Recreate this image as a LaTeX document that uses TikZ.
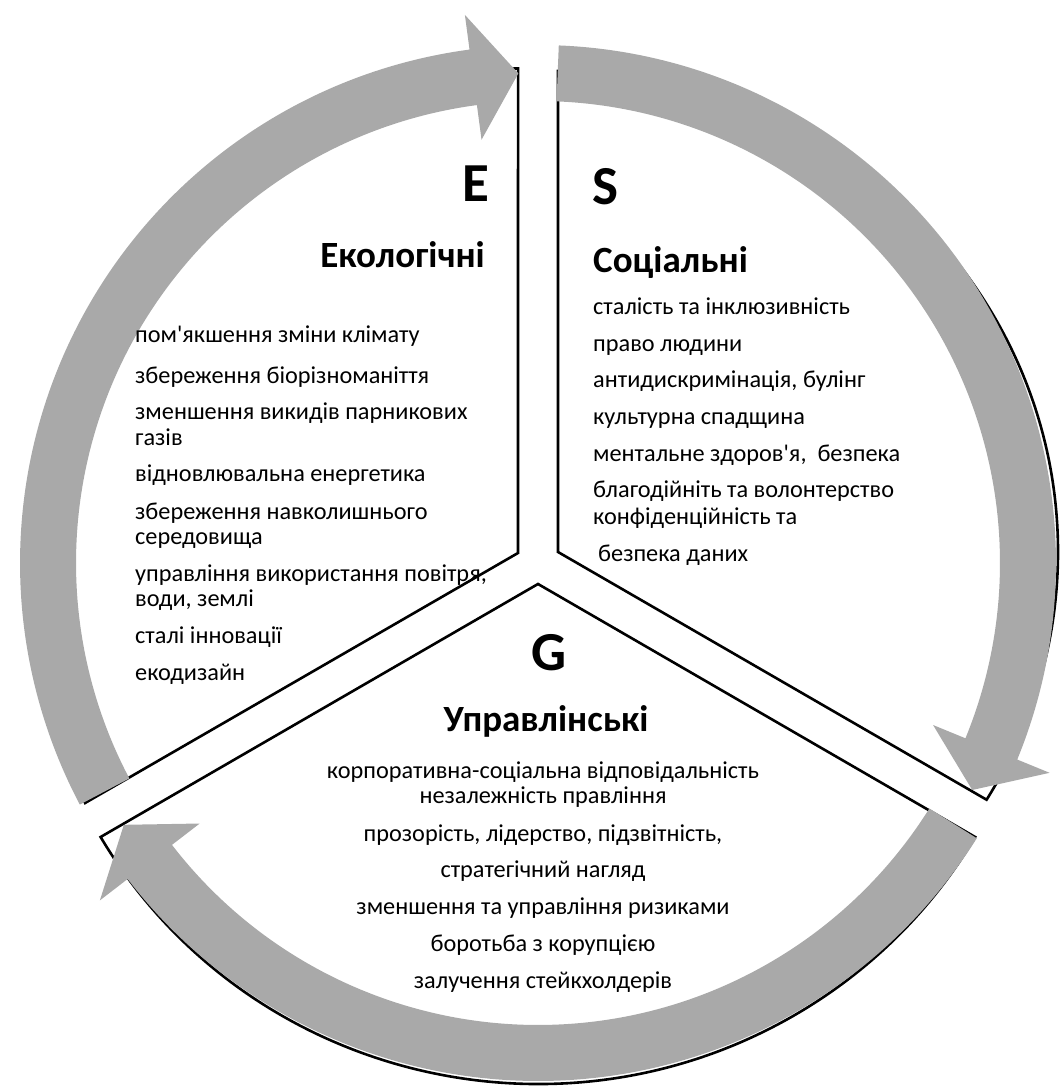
\documentclass[tikz,border=0pt]{standalone}
\usepackage{fontspec}
\setmainfont{Carlito}
\definecolor{arrowgray}{RGB}{169,169,169}
\newcommand{\ringarrow}[3]{% tail angle, head-base angle, tip angle
  \fill[arrowgray, shift={(C)}] (#1:518) arc[start angle=#1, end angle=#2, radius=518]
    -- (#2:553) -- (#3:490) -- (#2:427) -- (#2:462)
    arc[start angle=#2, end angle=#1, radius=462] -- cycle;}
\newcommand{\ap}{\textquotesingle}
\begin{document}
\begin{tikzpicture}[x=1pt,y=1pt,
  sector/.style={draw=black, line width=2.6pt, line join=miter},
  item/.style={anchor=base west, inner sep=0pt, font=\fontsize{24.3}{29}\selectfont},
  gitem/.style={anchor=base, inner sep=0pt, font=\fontsize{24.3}{29}\selectfont},
  title/.style={inner sep=0pt, font=\fontsize{37}{42}\selectfont\bfseries},
  letter/.style={inner sep=0pt, font=\fontsize{55}{60}\selectfont\bfseries}]
\useasboundingbox (0,0) rectangle (1059,1091);
\coordinate (C) at (538,528);
\coordinate (Ea) at (518,538);
\coordinate (Sa) at (558,539);
\coordinate (Ga) at (538,507);
% sectors
\draw[sector] (Ea) -- plot[domain=92.31:207.92, samples=80]
  ({538+(495+(\x-92.31)*0.1522)*cos(\x)},{528+(495+(\x-92.31)*0.1522)*sin(\x)}) -- cycle;
\draw[sector] (Sa) -- ++(0,481) arc[start angle=90, end angle=-31, x radius=500, y radius=481] -- cycle;
\draw[sector] (Ga) -- ++(-437.4,-253) arc[start angle=210.4, end angle=329.6, x radius=507, y radius=500] -- cycle;
% circular arrows
\ringarrow{207.8}{97.6}{92.3}
\ringarrow{87.7}{-22.3}{-27.6}
\ringarrow{-32.1}{-142.4}{-147.7}
% E
\node[letter, anchor=base west] (eL) at (462,889) {E};
\node[title, anchor=base east] (eT) at (485,823) {Екологічні};
\node[item] (e1) at (135,748) {пом\ap якшення зміни клімату};
\node[item] (e2) at (135,707) {збереження біорізноманіття};
\node[item] (e3) at (135,671) {зменшення викидів парникових};
\node[item] (e4) at (135,645) {газів};
\node[item] (e5) at (135,609) {відновлювальна енергетика};
\node[item] (e6) at (135,571) {збереження навколишнього};
\node[item] (e7) at (135,546) {середовища};
\node[item] (e8) at (135,509) {управління використання повітря,};
\node[item] (e9) at (135,484) {води, землі};
\node[item] (e10) at (135,447) {сталі інновації};
\node[item] (e11) at (135,410) {екодизайн};
% S
\node[letter, anchor=base west] (sL) at (592,886) {S};
\node[title, anchor=base west] (sT) at (593,818) {Соціальні};
\node[item] (s1) at (593,776) {сталість та інклюзивність};
\node[item] (s2) at (593,739) {право людини};
\node[item] (s3) at (593,703) {антидискримінація, булінг};
\node[item] (s4) at (593,666) {культурна спадщина};
\node[item] (s5) at (593,629) {ментальне здоров\ap я,\ \ безпека};
\node[item] (s6) at (593,593) {благодійніть та волонтерство};
\node[item] (s7) at (593,566) {конфіденційність та};
\node[item] (s8) at (598,529) {безпека даних};
% G
\node[letter, anchor=base] (gL) at (549,420) {G};
\node[title, anchor=base] (gT) at (546,359) {Управлінські};
\node[gitem] (g1) at (543,312) {корпоративна-соціальна відповідальність};
\node[gitem] (g2) at (543,287) {незалежність правління};
\node[gitem] (g3) at (543,249) {прозорість, лідерство, підзвітність,};
\node[gitem] (g4) at (543,213) {стратегічний нагляд};
\node[gitem] (g5) at (543,176) {зменшення та управління ризиками};
\node[gitem] (g6) at (543,139) {боротьба з корупцією};
\node[gitem] (g7) at (543,102) {залучення стейкхолдерів};
\end{tikzpicture}
\end{document}
